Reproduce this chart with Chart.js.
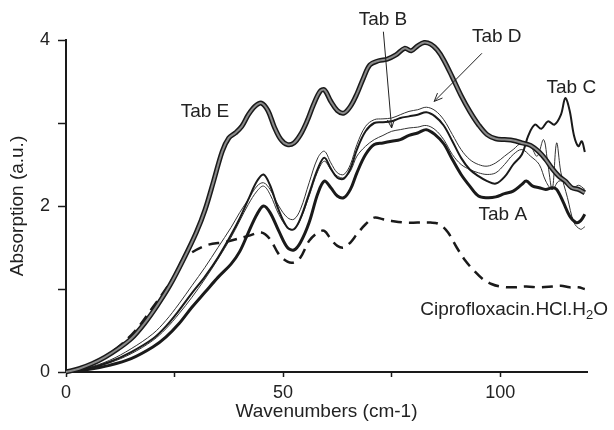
<!DOCTYPE html>
<html>
<head>
<meta charset="utf-8">
<script src="https://cdn.jsdelivr.net/npm/chart.js@4.4.1/dist/chart.umd.min.js"></script>
<style>
  body { margin: 0; background: #fff; }
  #wrap { width: 614px; height: 430px; }
</style>
</head>
<body>
<div id="wrap"><canvas id="spectra"></canvas></div>
<script>
    // spectra (wavenumber, absorption)
    const tabEX = [0, 3, 6, 9, 12, 15, 18, 21, 24, 27, 30, 32, 34, 36, 37.5, 39, 40.5, 42, 43.5, 45, 46.5, 48, 49.5, 51, 52.5, 54, 55.5, 57, 58.5, 59.5, 61, 62.5, 64, 65.5, 67, 68.5, 70, 72, 74, 76, 78, 79.5, 81, 82.5, 84, 85.5, 87, 89, 91, 93, 95, 97, 99, 101, 103, 105, 107, 109, 110.5, 112, 113.5, 115, 116.5, 118, 119.5];
    const tabEY = [0, 0.04, 0.1, 0.18, 0.28, 0.4, 0.58, 0.8, 1.05, 1.35, 1.68, 1.95, 2.3, 2.66, 2.82, 2.88, 2.96, 3.1, 3.2, 3.24, 3.15, 2.95, 2.8, 2.74, 2.76, 2.86, 3.02, 3.22, 3.38, 3.4, 3.26, 3.15, 3.12, 3.2, 3.35, 3.54, 3.7, 3.75, 3.77, 3.82, 3.9, 3.87, 3.93, 3.97, 3.95, 3.88, 3.76, 3.55, 3.33, 3.14, 2.98, 2.86, 2.81, 2.8, 2.79, 2.76, 2.73, 2.65, 2.56, 2.45, 2.36, 2.3, 2.22, 2.2, 2.16];

    const tabAX = [0, 5, 10, 15, 20, 23, 26, 29, 32, 35, 38, 40, 42, 44, 45.5, 47, 49, 51, 52.5, 54, 56, 58, 59.5, 61, 62.5, 64, 65.5, 67, 69, 71, 73, 75, 77, 79, 81, 83, 85, 87, 89, 91, 93, 95, 97, 99, 101, 103, 105, 106, 107.5, 109, 110.5, 112, 113, 114.5, 116, 117.5, 118.5, 119.5];
    const tabAY = [0, 0.03, 0.08, 0.16, 0.3, 0.42, 0.58, 0.78, 0.96, 1.14, 1.3, 1.45, 1.68, 1.9, 2.0, 1.92, 1.7, 1.5, 1.47, 1.56, 1.8, 2.15, 2.3, 2.22, 2.12, 2.1, 2.2, 2.4, 2.62, 2.74, 2.76, 2.78, 2.8, 2.85, 2.88, 2.92, 2.86, 2.75, 2.56, 2.38, 2.24, 2.12, 2.1, 2.11, 2.15, 2.18, 2.26, 2.3, 2.24, 2.22, 2.2, 2.22, 2.2, 2.05, 1.88, 1.8, 1.82, 1.9];

    const midX = [0, 5, 10, 15, 20, 23, 26, 29, 32, 35, 38, 40, 42, 44, 45.5, 47, 49, 51, 52.5, 54, 56, 58, 59.5, 61, 62.5, 64, 65.5, 67, 69, 71, 73, 75, 77, 79, 81, 83, 85, 87, 89, 91, 93, 95, 97, 99, 101, 103, 105];
    const tabBY = [0, 0.04, 0.11, 0.22, 0.38, 0.52, 0.7, 0.9, 1.12, 1.36, 1.62, 1.82, 2.02, 2.18, 2.24, 2.14, 1.9, 1.74, 1.72, 1.84, 2.12, 2.42, 2.54, 2.44, 2.36, 2.34, 2.42, 2.6, 2.72, 2.8, 2.85, 2.9, 2.92, 2.94, 2.95, 2.97, 2.92, 2.8, 2.62, 2.5, 2.44, 2.4, 2.38, 2.4, 2.5, 2.62, 2.68];
    const tabCY = [0, 0.04, 0.12, 0.24, 0.4, 0.55, 0.74, 0.95, 1.15, 1.38, 1.65, 1.85, 2.08, 2.3, 2.38, 2.25, 1.95, 1.74, 1.72, 1.85, 2.15, 2.45, 2.58, 2.45, 2.34, 2.33, 2.45, 2.68, 2.9, 3.0, 3.01, 3.02, 3.06, 3.08, 3.1, 3.13, 3.08, 2.97, 2.78, 2.58, 2.44, 2.36, 2.3, 2.27, 2.35, 2.5, 2.62];
    const tabDY = [0, 0.05, 0.14, 0.28, 0.46, 0.62, 0.82, 1.04, 1.26, 1.5, 1.74, 1.92, 2.08, 2.24, 2.28, 2.2, 2.0, 1.86, 1.84, 1.96, 2.28, 2.58, 2.66, 2.52, 2.4, 2.38, 2.5, 2.74, 2.96, 3.04, 3.05, 3.06, 3.1, 3.14, 3.16, 3.19, 3.15, 3.04, 2.86, 2.68, 2.56, 2.5, 2.48, 2.52, 2.6, 2.68, 2.76];

    // right-hand tails (x > 105) where the curves split apart
    const tabBTailX = [107, 109, 110.5, 112, 113.5, 115, 116.5, 118, 119.5];
    const tabBTailY = [2.6, 2.5, 2.3, 2.2, 2.3, 2.28, 2.2, 2.25, 2.2];
    const tabCTailX = [106.5, 108, 109.5, 111, 112.5, 114, 115, 116, 117, 118, 118.8, 119.5];
    const tabCTailY = [2.85, 2.98, 2.93, 3.02, 2.98, 3.1, 3.3, 3.15, 2.85, 2.72, 2.78, 2.65];
    const tabDTailX = [107, 108.5, 110, 111, 112, 113, 114, 115.5, 117, 118.5, 119.5];
    const tabDTailY = [2.72, 2.6, 2.8, 2.5, 2.2, 2.76, 2.4, 2.1, 1.8, 1.72, 1.75];

    const ciproX = [0, 4, 8, 12, 16, 20, 23, 25.5, 27, 32, 37, 42, 45, 47, 49, 51, 52.5, 54, 56, 58, 59.5, 61, 62.5, 64, 65.5, 67, 69, 71, 73, 75, 78, 81, 84, 86, 88, 90, 92, 94, 96, 98, 100, 103, 106, 109, 112, 114, 116, 118, 119.5];
    const ciproY = [0, 0.05, 0.15, 0.3, 0.5, 0.78, 1.0, 1.2, 1.36, 1.52, 1.57, 1.64, 1.68, 1.6, 1.42, 1.33, 1.32, 1.38, 1.58, 1.68, 1.7, 1.6, 1.52, 1.5, 1.56, 1.66, 1.78, 1.86, 1.84, 1.82, 1.8, 1.8, 1.8, 1.78, 1.68, 1.5, 1.34, 1.22, 1.12, 1.06, 1.03, 1.02, 1.03, 1.02, 1.03, 1.04, 1.02, 1.02, 1.0];

    const xTicks = [0, 25, 50, 75, 100];

    const pts = (xs, ys) => xs.map((x, i) => ({ x: x, y: ys[i] }));

    const ink = '#1a1a1a';
    const font = "'Liberation Sans', Arial, Helvetica, sans-serif";

    function line(data, color, width, dash) {
        return {
            data: data,
            borderColor: color,
            borderWidth: width,
            borderDash: dash || [],
            pointRadius: 0,
            tension: 0.35,
            fill: false,
            clip: false
        };
    }

    // labels and arrows, in data units
    const notes = [
        { text: 'Tab E', x: 32, y: 3.14 },
        { text: 'Tab B', x: 73, y: 4.24 },
        { text: 'Tab D', x: 99.2, y: 4.04 },
        { text: 'Tab C', x: 116.4, y: 3.43 },
        { text: 'Tab A', x: 100.6, y: 1.89 }
    ];
    const arrows = [
        { from: [73.1, 4.1], to: [75, 2.94] },
        { from: [95.8, 3.84], to: [84.8, 3.26] }
    ];

    const notesPlugin = {
        id: 'notes',
        afterDatasetsDraw(chart) {
            const ctx = chart.ctx;
            const sx = chart.scales.x, sy = chart.scales.y;
            ctx.save();
            ctx.fillStyle = '#222';
            ctx.font = '19px ' + font;
            ctx.textAlign = 'center';
            ctx.textBaseline = 'middle';
            notes.forEach(n => ctx.fillText(n.text, sx.getPixelForValue(n.x), sy.getPixelForValue(n.y)));

            // Ciprofloxacin.HCl.H2O with subscript 2
            let cx = sx.getPixelForValue(81.6);
            const cy = sy.getPixelForValue(0.75);
            ctx.textAlign = 'left';
            const parts = [['Ciprofloxacin.HCl.H', 19, 0], ['2', 13, 6], ['O', 19, 0]];
            parts.forEach(p => {
                ctx.font = p[1] + 'px ' + font;
                ctx.fillText(p[0], cx, cy + p[2]);
                cx += ctx.measureText(p[0]).width;
            });

            ctx.strokeStyle = '#222';
            ctx.lineWidth = 1;
            arrows.forEach(a => {
                const x1 = sx.getPixelForValue(a.from[0]), y1 = sy.getPixelForValue(a.from[1]);
                const x2 = sx.getPixelForValue(a.to[0]), y2 = sy.getPixelForValue(a.to[1]);
                const ang = Math.atan2(y2 - y1, x2 - x1);
                ctx.beginPath();
                ctx.moveTo(x1, y1);
                ctx.lineTo(x2, y2);
                ctx.moveTo(x2 - 9 * Math.cos(ang - 0.4), y2 - 9 * Math.sin(ang - 0.4));
                ctx.lineTo(x2, y2);
                ctx.lineTo(x2 - 9 * Math.cos(ang + 0.4), y2 - 9 * Math.sin(ang + 0.4));
                ctx.stroke();
            });
            ctx.restore();
        }
    };

    new Chart(document.getElementById('spectra'), {
        type: 'line',
        data: {
            datasets: [
                line(pts(tabEX, tabEY), '#8a8a8a', 2),
                line(pts(tabEX, tabEY), ink, 5),
                line(pts(tabAX, tabAY), ink, 3),
                line(pts(midX.concat(tabCTailX), tabCY.concat(tabCTailY)), ink, 2),
                line(pts(midX.concat(tabBTailX), tabBY.concat(tabBTailY)), '#333', 1),
                line(pts(midX.concat(tabDTailX), tabDY.concat(tabDTailY)), '#333', 1),
                line(pts(ciproX, ciproY), ink, 2.5, [11, 7])
            ]
        },
        options: {
            responsive: true,
            maintainAspectRatio: false,
            animation: false,
            layout: { padding: { top: 40, right: 27, bottom: 3, left: 0 } },
            plugins: {
                legend: { display: false },
                tooltip: { enabled: false }
            },
            scales: {
                x: {
                    type: 'linear',
                    min: 0,
                    max: 120,
                    afterBuildTicks: s => { s.ticks = xTicks.map(v => ({ value: v })); },
                    afterFit: s => { s.height = 55; },
                    border: { color: ink, width: 2 },
                    grid: { drawOnChartArea: false, color: ink, tickLength: 5, tickWidth: 1.5 },
                    ticks: {
                        color: '#222',
                        padding: 5,
                        font: { family: font, size: 18 },
                        callback: v => (v % 50 === 0 ? v : '')
                    },
                    title: {
                        display: true,
                        text: 'Wavenumbers (cm-1)',
                        color: '#222',
                        font: { family: font, size: 19 },
                        padding: { top: 4, bottom: 4 }
                    }
                },
                y: {
                    min: 0,
                    max: 4,
                    afterFit: s => { s.width = 66; },
                    border: { color: ink, width: 2 },
                    grid: { drawOnChartArea: false, color: ink, tickLength: 8, tickWidth: 1.5 },
                    ticks: {
                        stepSize: 1,
                        color: '#222',
                        padding: 8,
                        font: { family: font, size: 18 },
                        callback: v => (v % 2 === 0 ? v : '')
                    },
                    title: {
                        display: true,
                        text: 'Absorption (a.u.)',
                        color: '#222',
                        font: { family: font, size: 19 },
                        padding: { top: 6, bottom: 4 }
                    }
                }
            }
        },
        plugins: [notesPlugin]
    });
</script>
</body>
</html>
